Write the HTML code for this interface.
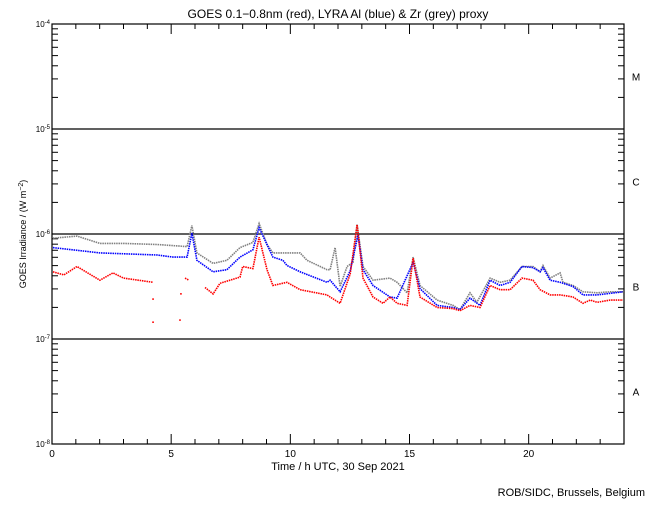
<!DOCTYPE html>
<html><head><meta charset="utf-8"><style>
body{margin:0;background:#fff;width:650px;height:500px;overflow:hidden}
svg text{font-family:"Liberation Sans",sans-serif;fill:#000}
</style></head><body>
<svg id="chart" width="650" height="500" xmlns="http://www.w3.org/2000/svg">
<text x="338" y="18" font-size="12" text-anchor="middle">GOES 0.1−0.8nm (red), LYRA Al (blue) &amp; Zr (grey) proxy</text>
<text transform="translate(26,234) rotate(-90)" font-size="9" text-anchor="middle">GOES Irradiance / (W m<tspan baseline-shift="super" font-size="7">−2</tspan>)</text>
<text x="338" y="470" font-size="11" text-anchor="middle">Time / h UTC, 30 Sep 2021</text>
<text x="645" y="496" font-size="11" text-anchor="end">ROB/SIDC, Brussels, Belgium</text>
<g id="axes"></g>
<g id="series"></g>
</svg>
<script>
const xTicks=[0,5,10,15,20];
const yDecades=[-8,-7,-6,-5,-4];
const flareClasses=['A','B','C','M'];
const greyT=[0.04,1.05,2.01,2.98,4.41,5.67,5.87,6.08,6.76,7.34,7.89,8.43,8.69,9.02,9.27,9.69,10.41,10.70,11.54,11.67,11.88,12.09,12.38,12.63,12.80,13.05,13.47,14.18,14.48,14.90,15.15,15.44,16.16,16.83,17.12,17.54,17.83,18.38,18.80,19.22,19.72,20.18,20.48,20.60,20.90,21.32,21.44,21.86,22.28,22.87,23.42,23.96];
const greyV=[-6.04,-6.02,-6.09,-6.09,-6.10,-6.12,-5.92,-6.18,-6.28,-6.25,-6.13,-6.08,-5.90,-6.10,-6.18,-6.18,-6.18,-6.25,-6.34,-6.34,-6.13,-6.50,-6.31,-6.27,-5.91,-6.31,-6.44,-6.42,-6.46,-6.56,-6.22,-6.49,-6.63,-6.68,-6.72,-6.56,-6.65,-6.42,-6.46,-6.44,-6.31,-6.31,-6.36,-6.30,-6.42,-6.37,-6.46,-6.49,-6.55,-6.56,-6.55,-6.55];
const blueT=[0.04,2.01,4.41,5.08,5.67,5.87,6.08,6.76,7.34,7.89,8.43,8.69,9.27,9.69,9.86,10.41,11.54,11.67,12.09,12.51,12.84,13.05,13.47,14.18,14.48,15.15,15.44,16.16,16.83,17.12,17.54,17.96,18.38,18.80,19.22,19.72,20.18,20.48,20.60,20.90,21.32,21.86,22.28,22.87,23.96];
const blueV=[-6.13,-6.18,-6.20,-6.22,-6.22,-5.99,-6.25,-6.36,-6.34,-6.22,-6.15,-5.94,-6.22,-6.25,-6.30,-6.36,-6.46,-6.44,-6.55,-6.35,-6.01,-6.34,-6.49,-6.60,-6.61,-6.27,-6.52,-6.68,-6.70,-6.72,-6.61,-6.68,-6.44,-6.49,-6.46,-6.31,-6.32,-6.36,-6.32,-6.44,-6.46,-6.50,-6.58,-6.58,-6.55];
const redT=[0.04,0.5,1.05,2.01,2.56,3.0,4.24,null,5.58,5.75,null,6.42,6.76,7.05,7.89,8.0,8.43,8.69,9.02,9.27,9.86,10.41,11.54,11.67,12.09,12.51,12.80,13.05,13.47,13.89,14.18,14.48,14.90,15.15,15.44,16.16,16.83,17.12,17.54,17.96,18.38,18.80,19.22,19.72,20.18,20.48,20.90,21.32,21.86,22.28,22.58,22.87,23.42,23.96];
const redV=[-6.36,-6.39,-6.31,-6.44,-6.37,-6.42,-6.46,null,-6.42,-6.44,null,-6.51,-6.57,-6.47,-6.41,-6.31,-6.33,-6.03,-6.34,-6.49,-6.46,-6.53,-6.58,-6.60,-6.66,-6.38,-5.91,-6.42,-6.60,-6.66,-6.60,-6.66,-6.68,-6.23,-6.60,-6.70,-6.71,-6.73,-6.68,-6.70,-6.49,-6.53,-6.53,-6.42,-6.44,-6.53,-6.58,-6.58,-6.60,-6.66,-6.63,-6.65,-6.63,-6.63];
const strayT=[4.24,4.24,5.37,5.41];
const strayV=[-6.62,-6.84,-6.82,-6.57];

const X0=52,X1=624,Y4=24,DEC=105;
const xs=h=>X0+h*(X1-X0)/24;
const ys=l=>Y4+(-4-l)*DEC;
const NS='http://www.w3.org/2000/svg';
const axes=document.getElementById('axes'),ser=document.getElementById('series');
function mk(tag,attrs,parent){const e=document.createElementNS(NS,tag);for(const k in attrs)e.setAttribute(k,attrs[k]);parent.appendChild(e);return e;}
const frame=mk('rect',{x:X0,y:Y4,width:X1-X0,height:4*DEC,fill:'none',stroke:'#000','stroke-width':1.2},axes);


yDecades.forEach(d=>{
  const y=ys(d);
  if(d>-8&&d<-4){const l=mk('line',{x1:X0,x2:X1,y1:y,y2:y,stroke:'#000','stroke-width':1.2},axes);
    
    }
  const t=mk('text',{x:X0-2,y:y+3,'font-size':8,'text-anchor':'end'},axes);
  
  
  t.innerHTML='10<tspan baseline-shift="super" font-size="6">'+d+'</tspan>';
  if(d<-4){for(let m=2;m<=9;m++){const yy=ys(d+Math.log10(m));
    mk('line',{x1:X0,x2:X0+6,y1:yy,y2:yy,stroke:'#000'},axes);
    mk('line',{x1:X1,x2:X1-6,y1:yy,y2:yy,stroke:'#000'},axes);}}
});
flareClasses.forEach((c,i)=>{const t=mk('text',{x:636,y:ys(-7.5+i)+4,'font-size':10,'text-anchor':'middle'},axes);
  
  
  t.textContent=c;});
for(let h=1;h<24;h++){const x=xs(h),len=h%5===0?10:5;
  mk('line',{x1:x,x2:x,y1:ys(-8),y2:ys(-8)-len,stroke:'#000'},axes);
  mk('line',{x1:x,x2:x,y1:Y4,y2:Y4+len,stroke:'#000'},axes);}
xTicks.forEach(h=>{const t=mk('text',{x:xs(h),y:457,'font-size':10,'text-anchor':'middle'},axes);
  
  
  t.textContent=h;});
function drawSeries(T,V,color,name){
  let d='',pen=false;
  for(let i=0;i<T.length;i++){
    if(T[i]===null){pen=false;continue;}
    d+=(pen?'L':'M')+xs(T[i]).toFixed(1)+' '+ys(V[i]).toFixed(1)+' ';pen=true;}
  const p=mk('path',{d:d,fill:'none',stroke:color,'stroke-width':1.6,'stroke-dasharray':'1.5 0.8'},ser);
  
  
}
drawSeries(greyT,greyV,'#808080','lyra-zr-series');
drawSeries(blueT,blueV,'#0000ff','lyra-al-series');
drawSeries(redT,redV,'#ff0000','goes-xray-series');
strayT.forEach((h,i)=>{const r=mk('rect',{x:xs(h)-0.8,y:ys(strayV[i])-0.8,width:1.6,height:1.6,fill:'#ff0000'},ser);
  
  });
</script>
</body></html>
